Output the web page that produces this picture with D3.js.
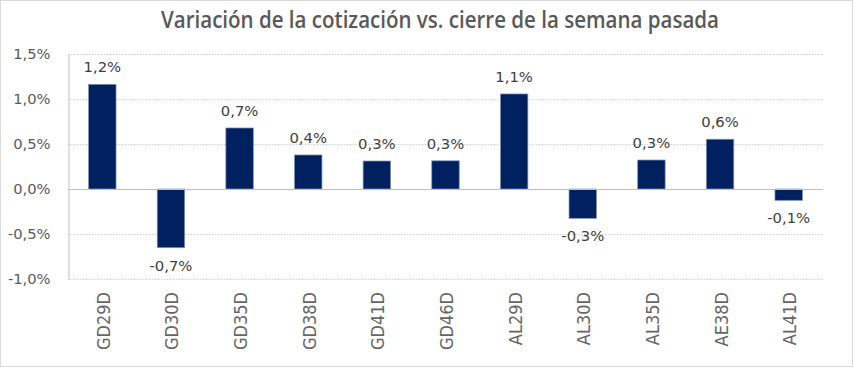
<!DOCTYPE html>
<html><head><meta charset="utf-8">
<script src="https://cdn.jsdelivr.net/npm/d3@7"></script>
<style>html,body{margin:0;padding:0;background:#fff;}svg{display:block;}</style>
</head><body>
<svg id="chart" width="854" height="368"></svg>
<script>
const categories = ["GD29D","GD30D","GD35D","GD38D","GD41D","GD46D","AL29D","AL30D","AL35D","AE38D","AL41D"];
const values = [1.163, -0.652, 0.678, 0.378, 0.311, 0.313, 1.056, -0.326, 0.322, 0.553, -0.126];
const yTicks = [-1.0, -0.5, 0.0, 0.5, 1.0, 1.5];
const title = "Variación de la cotización vs. cierre de la semana pasada";

const fmt = v => v.toFixed(1).replace(".", ",") + "%";
const svg = d3.select("#chart");
const W = 854, H = 368;
const m = {left: 68, right: 31, top: 54, bottom: 89};

svg.append("rect").attr("x",0.5).attr("y",0.5).attr("width",W-2).attr("height",H-2)
  .attr("fill","#fff").attr("stroke","#d9d9d9");

const x = d3.scaleBand().domain(categories).range([m.left, W - m.right]).paddingInner(0.6).paddingOuter(0.3);
const y = d3.scaleLinear().domain([-1.0, 1.5]).range([H - m.bottom, m.top]);

svg.append("text").attr("x", 440).attr("y", 28).attr("text-anchor","middle")
  .attr("font-family","'Open Sans', sans-serif").attr("font-weight",600).attr("font-size",22.5)
  .attr("textLength",558).attr("lengthAdjust","spacingAndGlyphs")
  .attr("fill","#595959").text(title);

// gridlines
svg.append("g").selectAll("line").data(yTicks.filter(t => t !== 0)).join("line")
  .attr("x1", m.left).attr("x2", W - m.right)
  .attr("y1", d => Math.round(y(d)) + 0.5).attr("y2", d => Math.round(y(d)) + 0.5)
  .attr("stroke","#d0d0d0").attr("stroke-dasharray","1.5,1.5");

// y axis
const yAxis = d3.axisLeft(y).tickValues(yTicks).tickFormat(fmt).tickSize(0).tickPadding(18);
const gy = svg.append("g").attr("transform", `translate(${m.left + 0.5},0)`).call(yAxis);
gy.select(".domain").attr("stroke","#bfbfbf");
gy.selectAll("text").attr("font-family","'DejaVu Sans', sans-serif").attr("font-size",14.7).attr("fill","#595959");

// bars
svg.append("g").selectAll("rect").data(values).join("rect")
  .attr("x", (d,i) => x(categories[i]))
  .attr("width", x.bandwidth())
  .attr("y", d => y(Math.max(0,d)))
  .attr("height", d => Math.abs(y(d) - y(0)))
  .attr("fill","#002060").attr("stroke","#7f93b8").attr("stroke-width",0.75);

// zero line
svg.append("line").attr("x1", m.left).attr("x2", W - m.right)
  .attr("y1", Math.round(y(0)) + 0.5).attr("y2", Math.round(y(0)) + 0.5)
  .attr("stroke","#bfbfbf");

// x axis labels
const xAxis = d3.axisBottom(x).tickSize(0).tickPadding(0);
const gx = svg.append("g").attr("transform", `translate(1,${H - m.bottom})`).call(xAxis);
gx.select(".domain").remove();
gx.selectAll("text").attr("font-family","'DejaVu Sans Condensed', 'DejaVu Sans', sans-serif")
  .attr("font-stretch","condensed").attr("font-size",18).attr("fill","#666666")
  .attr("transform","translate(0,13) rotate(-90)").attr("text-anchor","end").attr("dy","0.36em").attr("x",0).attr("y",0);

// data labels
svg.append("g").selectAll("text").data(values).join("text")
  .attr("x", (d,i) => x(categories[i]) + x.bandwidth()/2)
  .attr("y", d => d >= 0 ? y(d) - 12 : y(d) + 23)
  .attr("text-anchor","middle")
  .attr("font-family","'DejaVu Sans', sans-serif").attr("font-size",14.8).attr("fill","#404040")
  .text(d => fmt(d));
</script>
</body></html>
